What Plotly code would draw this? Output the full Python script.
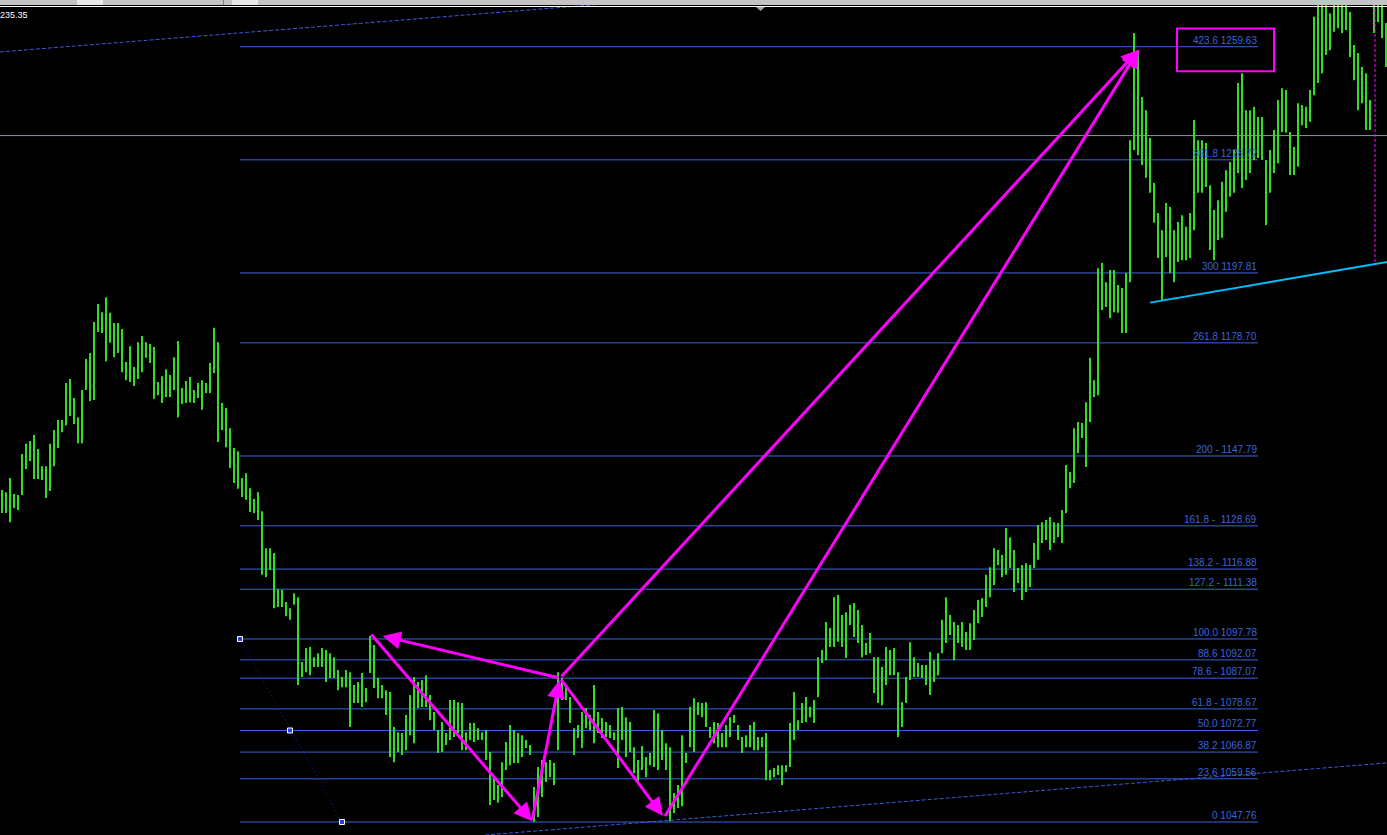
import plotly.graph_objects as go

# ---------------- data ----------------
bar_highs = [
    1138.5, 1137.9, 1141.8, 1137.4, 1137.1, 1148.3, 1151.1, 1151.9, 1153.5, 1149.7,
    1145.0, 1145.0, 1151.1, 1154.9, 1157.6, 1157.6, 1167.7, 1168.8, 1163.6, 1158.4,
    1165.8, 1174.3, 1175.9, 1184.4, 1189.3, 1187.1, 1191.2, 1186.9, 1184.1, 1184.1,
    1182.5, 1173.5, 1177.8, 1172.1, 1178.9, 1180.6, 1178.9, 1178.4, 1177.6, 1168.0,
    1169.6, 1171.5, 1169.9, 1174.8, 1179.2, 1166.4, 1168.3, 1169.4, 1165.8, 1167.7,
    1168.5, 1167.7, 1173.2, 1182.8, 1178.9, 1162.3, 1160.9, 1155.4, 1150.0, 1149.1,
    1141.8, 1143.1, 1139.0, 1136.0, 1137.9, 1132.7, 1122.6, 1122.6, 1121.3, 1111.4,
    1111.2, 1107.9, 1106.2, 1110.3, 1109.2, 1091.5, 1095.3, 1095.6, 1092.8, 1093.9,
    1095.3, 1094.8, 1093.9, 1092.8, 1089.3, 1087.4, 1089.3, 1088.7, 1085.2, 1086.0,
    1088.5, 1084.4, 1098.6, 1096.1, 1087.1, 1085.2, 1083.8, 1083.3, 1073.7, 1072.3,
    1072.1, 1077.0, 1082.5, 1087.4, 1086.0, 1086.6, 1087.9, 1082.5, 1077.8, 1072.9,
    1075.1, 1072.1, 1081.1, 1081.1, 1080.5, 1080.3, 1072.3, 1074.8, 1074.8, 1073.4,
    1072.3, 1072.9, 1066.9, 1059.8, 1057.9, 1064.1, 1069.6, 1074.3, 1072.9, 1072.1,
    1071.5, 1070.2, 1068.8, 1057.3, 1062.8, 1064.7, 1064.1, 1064.7, 1063.9, 1088.7,
    1087.1, 1085.2, 1081.9, 1073.4, 1074.3, 1077.8, 1078.9, 1077.0, 1085.2, 1077.8,
    1076.2, 1075.1, 1074.3, 1072.3, 1078.9, 1079.2, 1076.4, 1075.1, 1068.2, 1064.7,
    1068.5, 1065.5, 1066.6, 1078.4, 1077.5, 1072.9, 1069.3, 1068.2, 1055.7, 1057.9,
    1071.5, 1066.6, 1079.2, 1081.6, 1080.5, 1080.3, 1080.5, 1073.7, 1075.1, 1074.8,
    1072.1, 1074.3, 1076.4, 1077.0, 1074.3, 1071.0, 1071.5, 1074.3, 1075.1, 1071.0,
    1071.0, 1072.1, 1062.0, 1062.5, 1063.3, 1063.3, 1063.3, 1074.8, 1083.3, 1075.6,
    1080.3, 1081.9, 1079.2, 1081.1, 1092.8, 1094.8, 1102.4, 1100.8, 1109.2, 1109.8,
    1104.3, 1105.1, 1107.1, 1107.6, 1105.7, 1101.6, 1096.7, 1099.4, 1092.8, 1092.8,
    1090.1, 1095.6, 1094.8, 1095.3, 1088.7, 1080.5, 1087.4, 1096.9, 1092.8, 1091.2,
    1090.7, 1090.7, 1094.2, 1092.0, 1093.9, 1103.0, 1109.2, 1104.3, 1102.4, 1101.6,
    1102.4, 1099.7, 1102.1, 1105.7, 1108.4, 1108.9, 1115.3, 1117.4, 1122.6, 1122.1,
    1120.7, 1128.1, 1125.6, 1122.1, 1117.2, 1118.0, 1118.5, 1118.0, 1124.0, 1128.9,
    1129.7, 1130.3, 1131.1, 1129.7, 1129.5, 1133.0, 1145.3, 1143.4, 1155.4, 1157.1,
    1156.8, 1162.5, 1174.6, 1168.5, 1199.1, 1200.5, 1195.3, 1198.6, 1198.6, 1194.5,
    1193.7, 1197.8, 1234.1, 1263.4, 1258.7, 1245.9, 1242.3, 1234.7, 1222.4, 1214.2,
    1209.5, 1216.9, 1215.8, 1209.5, 1211.7, 1213.6, 1210.4, 1214.2, 1239.6, 1234.1,
    1234.1, 1233.3, 1221.8, 1215.0, 1217.7, 1222.7, 1225.9, 1228.1, 1231.4, 1249.7,
    1252.4, 1242.3, 1242.3, 1243.2, 1240.4, 1240.4, 1228.7, 1231.4, 1236.9, 1245.1,
    1248.3, 1247.8, 1236.3, 1232.2, 1244.2, 1243.7, 1243.2, 1247.8, 1267.8, 1274.0,
    1274.0, 1274.0, 1268.8, 1274.0, 1274.0, 1274.0, 1274.0, 1269.1, 1260.1, 1257.9,
    1254.1, 1252.4, 1245.1, 1274.0, 1271.0, 1274.0, 1266.1,
]
bar_lows = [
    1132.2, 1132.2, 1129.7, 1133.6, 1133.0, 1137.1, 1144.2, 1146.4, 1141.5, 1141.5,
    1141.2, 1136.3, 1138.2, 1145.0, 1150.0, 1154.3, 1156.2, 1158.7, 1156.5, 1151.3,
    1151.3, 1165.8, 1162.8, 1163.1, 1181.7, 1181.4, 1173.7, 1178.7, 1174.8, 1175.9,
    1170.7, 1168.5, 1168.0, 1166.9, 1168.8, 1170.7, 1174.6, 1173.2, 1163.4, 1164.4,
    1162.3, 1163.9, 1163.9, 1165.8, 1158.4, 1162.0, 1162.3, 1162.5, 1162.3, 1163.6,
    1160.4, 1165.0, 1165.0, 1170.5, 1151.6, 1154.9, 1150.2, 1144.5, 1140.4, 1138.8,
    1136.6, 1135.8, 1132.5, 1132.2, 1130.3, 1115.3, 1114.7, 1116.6, 1106.2, 1106.5,
    1106.5, 1104.0, 1103.0, 1107.1, 1085.2, 1087.4, 1088.7, 1087.9, 1090.1, 1090.1,
    1090.1, 1086.0, 1087.1, 1087.1, 1083.8, 1084.6, 1084.6, 1073.7, 1080.3, 1080.3,
    1079.2, 1080.5, 1088.5, 1084.4, 1081.6, 1081.6, 1077.0, 1065.5, 1064.1, 1066.9,
    1066.1, 1067.4, 1071.5, 1069.3, 1078.9, 1079.2, 1079.2, 1075.6, 1072.9, 1066.6,
    1066.9, 1068.8, 1070.2, 1071.0, 1072.1, 1067.4, 1067.4, 1070.2, 1069.6, 1070.2,
    1070.2, 1064.7, 1052.4, 1053.8, 1053.0, 1054.6, 1062.0, 1063.3, 1063.9, 1063.9,
    1065.5, 1068.0, 1066.1, 1047.8, 1049.1, 1054.6, 1058.7, 1060.0, 1057.9, 1067.4,
    1081.1, 1081.1, 1074.8, 1066.1, 1070.7, 1068.0, 1073.4, 1072.9, 1069.3, 1072.1,
    1070.7, 1071.0, 1070.7, 1070.2, 1062.5, 1070.2, 1065.5, 1066.9, 1061.1, 1058.7,
    1062.0, 1060.0, 1063.3, 1062.8, 1062.0, 1064.7, 1062.0, 1048.0, 1050.2, 1051.6,
    1052.1, 1063.9, 1068.2, 1066.9, 1077.0, 1076.4, 1073.7, 1070.7, 1069.3, 1068.2,
    1068.2, 1068.2, 1071.0, 1074.8, 1070.2, 1066.6, 1068.2, 1068.2, 1067.4, 1067.4,
    1068.2, 1059.2, 1059.2, 1060.0, 1060.6, 1057.9, 1061.4, 1062.8, 1070.2, 1072.9,
    1074.8, 1075.1, 1076.4, 1074.8, 1081.9, 1091.2, 1092.0, 1095.6, 1095.6, 1097.0,
    1095.6, 1092.6, 1101.6, 1098.3, 1096.7, 1092.8, 1093.4, 1093.9, 1083.0, 1080.3,
    1079.7, 1085.2, 1087.9, 1087.9, 1071.0, 1073.7, 1080.3, 1086.6, 1087.4, 1087.4,
    1087.1, 1085.2, 1082.5, 1086.0, 1087.9, 1093.9, 1096.7, 1098.9, 1092.0, 1096.7,
    1095.6, 1094.8, 1094.8, 1097.5, 1102.1, 1103.8, 1106.5, 1109.2, 1112.5, 1118.0,
    1114.7, 1115.3, 1117.2, 1110.6, 1113.1, 1108.4, 1110.6, 1112.0, 1117.2, 1119.4,
    1124.0, 1124.8, 1122.1, 1124.0, 1125.6, 1124.0, 1132.2, 1139.0, 1140.4, 1148.6,
    1152.7, 1144.8, 1157.1, 1163.9, 1164.4, 1187.7, 1188.5, 1185.5, 1187.1, 1186.9,
    1181.4, 1181.4, 1195.3, 1231.4, 1230.0, 1227.3, 1223.8, 1219.7, 1211.5, 1201.9,
    1190.4, 1202.2, 1197.8, 1195.3, 1200.8, 1201.3, 1201.3, 1201.9, 1209.5, 1219.7,
    1219.7, 1221.3, 1204.1, 1201.3, 1206.8, 1207.4, 1214.5, 1218.6, 1219.7, 1225.1,
    1221.0, 1223.2, 1225.1, 1228.7, 1229.2, 1228.7, 1210.9, 1219.7, 1225.1, 1227.8,
    1236.3, 1236.1, 1224.6, 1224.6, 1226.8, 1238.2, 1237.4, 1239.1, 1246.4, 1249.7,
    1252.4, 1257.4, 1258.7, 1263.7, 1264.7, 1263.4, 1264.2, 1256.8, 1250.5, 1242.3,
    1244.2, 1236.9, 1236.9, 1263.4, 1266.4, 1262.0, 1254.1,
]

fib_labels = ["0 1047.76", "23.6 1059.56", "38.2 1066.87", "50.0 1072.77",
              "61.8 - 1078.67", "78.6 - 1087.07", "88.6 1092.07", "100.0 1097.78",
              "127.2 - 1111.38", "138.2 - 1116.88", "161.8 -\u00a0 1128.69", "200 - 1147.79",
              "261.8 1178.70", "300 1197.81", "361.8 1228.72", "423.6 1259.63"]
fib_prices = [1047.76, 1059.56, 1066.87, 1072.77, 1078.67, 1087.07, 1092.07, 1097.78,
              1111.38, 1116.88, 1128.69, 1147.79, 1178.70, 1197.81, 1228.72, 1259.63]
fib_start, fib_end = 59.5, 314.0
fib_anchor_x = [59.5, 72.0, 85.0]
fib_anchor_y = [1097.78, 1072.77, 1047.76]

current_price = 1235.35
current_price_label = "235.35"   # as visible (leading digit clipped by the window edge)

# harmonic pattern pivots (bar index, price)
pivot_x = [92.0, 132.5, 139.5, 165.5, 284.25]
pivot_y = [1099.4, 1048.0, 1087.1, 1049.0, 1258.9]
# arrows: (from pivot, to pivot, standoff px)
arrow_pairs = [(2, 0, 13), (0, 1, 0), (1, 2, 2), (2, 4, 0), (2, 3, 2), (3, 4, 0)]

channel_upper = ([-0.5, 170.0], [1258.2, 1273.0])
channel_lower = ([120.75, 346.25], [1044.2, 1063.9])
cyan_trend = ([287.0, 346.25], [1189.7, 1200.8])
vline_x = 343.25
vline_y = [1200.8, 1280.0]
box_x = [293.75, 318.0]
box_y = [1252.9, 1264.6]

X_RANGE = [-0.5, 346.25]
Y_RANGE = [1044.21, 1272.40]

BAR_COLOR = "#33dd22"
FIB_COLOR = "#3b64db"
MAGENTA = "#ff00ff"

# ---------------- figure ----------------
fig = go.Figure()

bx, by = [], []
for i, (h, l) in enumerate(zip(bar_highs, bar_lows)):
    bx += [i, i, None]
    by += [l, h, None]
fig.add_trace(go.Scatter(x=bx, y=by, mode="lines", line=dict(color=BAR_COLOR, width=2),
                         hoverinfo="skip", showlegend=False))

shapes = []
for p in fib_prices:
    shapes.append(dict(type="line", xref="x", yref="y", x0=fib_start, x1=fib_end, y0=p, y1=p,
                       line=dict(color=FIB_COLOR, width=1), layer="below"))
shapes.append(dict(type="line", xref="paper", yref="y", x0=0, x1=1, y0=current_price, y1=current_price,
                   line=dict(color="#8a96a3", width=1), layer="below"))
for cx, cy in (channel_upper, channel_lower):
    shapes.append(dict(type="line", xref="x", yref="y", x0=cx[0], x1=cx[1], y0=cy[0], y1=cy[1],
                       line=dict(color="#3a5be0", width=1, dash="4px,2px")))
shapes.append(dict(type="line", xref="x", yref="y", x0=fib_anchor_x[0], x1=fib_anchor_x[-1],
                   y0=fib_anchor_y[0], y1=fib_anchor_y[-1],
                   line=dict(color="#1a22d0", width=1, dash="1px,3px")))
shapes.append(dict(type="line", xref="x", yref="y", x0=cyan_trend[0][0], x1=cyan_trend[0][1],
                   y0=cyan_trend[1][0], y1=cyan_trend[1][1], line=dict(color="#00bfff", width=2)))
shapes.append(dict(type="line", xref="x", yref="y", x0=vline_x, x1=vline_x, y0=vline_y[0], y1=vline_y[1],
                   line=dict(color=MAGENTA, width=1, dash="3px,2px")))
shapes.append(dict(type="rect", xref="x", yref="y", x0=box_x[0], x1=box_x[1], y0=box_y[0], y1=box_y[1],
                   line=dict(color=MAGENTA, width=2)))
# top window strip
H = 835.0
W = 1387.0
shapes.append(dict(type="rect", xref="paper", yref="paper", x0=0, x1=1, y0=1 - 5 / H, y1=1,
                   fillcolor="#c4c4c4", line=dict(width=0), layer="above"))
for a, b in ((77 / W, 103 / W), (232 / W, 258 / W)):
    shapes.append(dict(type="rect", xref="paper", yref="paper", x0=a, x1=b, y0=1 - 5 / H, y1=1,
                       fillcolor="#e8e8e8", line=dict(width=0), layer="above"))
shapes.append(dict(type="line", xref="paper", yref="paper", x0=223.5 / W, x1=223.5 / W,
                   y0=1 - 5 / H, y1=1, line=dict(color="#808080", width=1), layer="above"))
shapes.append(dict(type="rect", xref="paper", yref="paper", x0=0, x1=1, y0=1 - 7 / H, y1=1 - 6 / H,
                   fillcolor="#ffffff", line=dict(width=0), layer="above"))
shapes.append(dict(type="path", xref="paper", yref="paper",
                   path=f"M {756/W},{1-7/H} L {765/W},{1-7/H} L {760.5/W},{1-11/H} Z",
                   fillcolor="#a0a0a0", line=dict(width=0), layer="above"))

annotations = []
for lab, p in zip(fib_labels, fib_prices):
    annotations.append(dict(x=fib_end, y=p, xref="x", yref="y", text=lab, showarrow=False,
                            xanchor="right", yanchor="bottom", xshift=1, yshift=-1,
                            font=dict(family="Liberation Sans, Arial", size=10, color=FIB_COLOR)))
annotations.append(dict(x=0, y=1 - 8 / H, xref="paper", yref="paper", text=current_price_label,
                        showarrow=False, xanchor="left", yanchor="top", xshift=-2,
                        font=dict(family="Liberation Sans, Arial", size=9, color="#ffffff")))
for a, b, so in arrow_pairs:
    annotations.append(dict(x=pivot_x[b], y=pivot_y[b], ax=pivot_x[a], ay=pivot_y[a],
                            xref="x", yref="y", axref="x", ayref="y", text="", showarrow=True,
                            arrowhead=2, arrowsize=1.2, arrowwidth=3, arrowcolor=MAGENTA, standoff=so))

fig.add_trace(go.Scatter(x=fib_anchor_x, y=fib_anchor_y, mode="markers",
                         marker=dict(symbol="square", size=5, color="#2a3cff",
                                     line=dict(color="#ffffff", width=1)),
                         hoverinfo="skip", showlegend=False))

fig.update_layout(
    width=1387, height=835, margin=dict(l=0, r=0, t=0, b=0),
    paper_bgcolor="#000000", plot_bgcolor="#000000",
    xaxis=dict(range=X_RANGE, visible=False, showgrid=False, zeroline=False, fixedrange=True),
    yaxis=dict(range=Y_RANGE, visible=False, showgrid=False, zeroline=False, fixedrange=True),
    shapes=shapes, annotations=annotations, showlegend=False,
)

fig.write_html("out.html", config={"displayModeBar": False},
               post_script="document.body.style.margin='0px';document.body.style.background='#000000';")
